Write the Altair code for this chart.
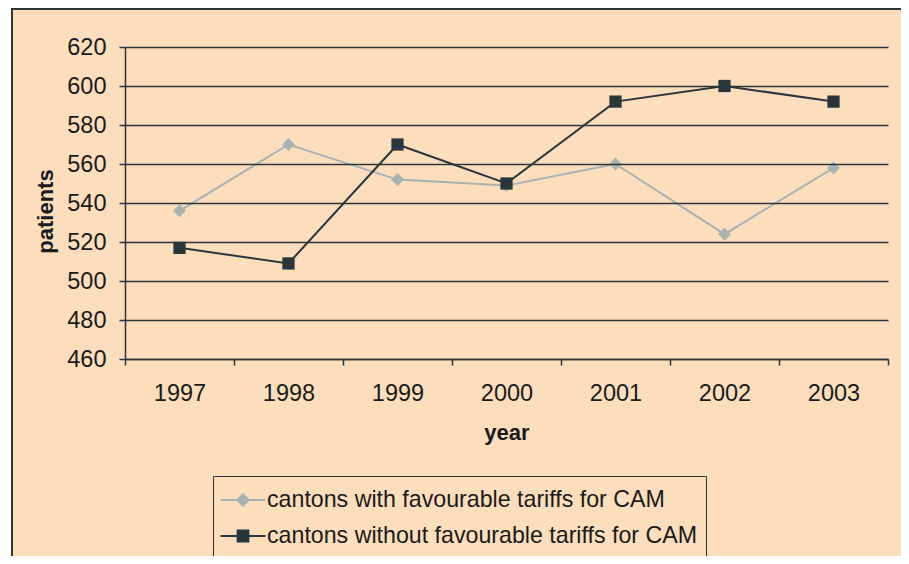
import altair as alt
import pandas as pd

years = ["1997", "1998", "1999", "2000", "2001", "2002", "2003"]
with_fav = [536, 570, 552, 549, 560, 524, 558]
without_fav = [517, 509, 570, 550, 592, 600, 592]
series_names = ["cantons with favourable tariffs for CAM",
                "cantons without favourable tariffs for CAM"]
y_ticks = [460, 480, 500, 520, 540, 560, 580, 600, 620]

rows = []
for y, v in zip(years, with_fav):
    rows.append({"year": y, "patients": v, "series": series_names[0]})
for y, v in zip(years, without_fav):
    rows.append({"year": y, "patients": v, "series": series_names[1]})
df = pd.DataFrame(rows)

PEACH = "#FCDEBC"
DARK = "#2B363A"
LIGHT = "#A8B3B2"
FONT = "Liberation Sans"

path_a = "M-1.5,0H1.5M0,-0.38L0.38,0L0,0.38L-0.38,0Z"
path_b = "M-1.5,0H1.5M-0.36,-0.36H0.36V0.36H-0.36Z"

color_scale = alt.Scale(domain=series_names, range=[LIGHT, DARK])
shape_scale = alt.Scale(domain=series_names, range=[path_a, path_b])
legend = alt.Legend(
    title=None, orient="none", legendX=88, legendY=429,
    fillColor=PEACH, strokeColor=DARK, padding=8,
    labelFont=FONT, labelFontSize=23.2, labelColor="#1a1a1a", labelOffset=8,
    symbolSize=900, symbolStrokeWidth=2, rowPadding=8, symbolOpacity=1,
    symbolOffset=6, labelLimit=700,
)

x_enc = alt.X("year:O", scale=alt.Scale(type="band", domain=years, paddingInner=0, paddingOuter=0),
              axis=alt.Axis(title="year", tickBand="extent", labelAngle=0, tickSize=6,
                            labelPadding=16, titlePadding=18, grid=False, zindex=1))
y_enc = alt.Y("patients:Q", scale=alt.Scale(domain=[460, 620], nice=False, zero=False),
              axis=alt.Axis(title="patients", values=y_ticks, tickSize=6, labelPadding=13,
                            titleX=-68, titleY=164, grid=True, zindex=1))
c_enc = alt.Color("series:N", scale=color_scale, legend=legend)

frame = alt.Chart(pd.DataFrame({"a": [0]})).mark_rect(
    fill=PEACH, stroke=DARK, strokeWidth=2
).encode(x=alt.value(-113), x2=alt.value(780), y=alt.value(-38), y2=alt.value(700))

lines = alt.Chart(df).mark_line(strokeWidth=2).encode(x=x_enc, y=y_enc, color=c_enc)
pts_a = alt.Chart(df[df.series == series_names[0]]).mark_point(
    shape="diamond", filled=True, size=170, opacity=1
).encode(x=x_enc, y=y_enc, color=c_enc)
pts_b = alt.Chart(df[df.series == series_names[1]]).mark_point(
    shape="square", filled=True, size=150, opacity=1
).encode(x=x_enc, y=y_enc, color=c_enc)
legend_layer = alt.Chart(df).transform_filter("false").mark_point(
    filled=True, strokeWidth=2
).encode(x=x_enc, y=y_enc, color=c_enc,
         shape=alt.Shape("series:N", scale=shape_scale, legend=legend))

chart = alt.layer(frame, lines, pts_a, pts_b, legend_layer).properties(
    width=763, height=312,
    autosize=alt.AutoSizeParams(type="none"),
    padding={"left": 117, "top": 39, "right": 13, "bottom": 197},
    background="white",
).configure_view(
    stroke="#5E6E70", strokeWidth=1.5, fill=None
).configure_axis(
    labelFont=FONT, labelFontSize=23.5, labelColor="#1a1a1a",
    titleFont=FONT, titleFontSize=22, titleFontWeight="bold", titleColor="#1a1a1a",
    domainColor=DARK, domainWidth=1.5, tickColor=DARK, tickWidth=1.5,
    gridColor=DARK, gridWidth=1.5, gridOpacity=1,
)

chart.save("out.html", embed_options={"renderer": "svg", "actions": False})
